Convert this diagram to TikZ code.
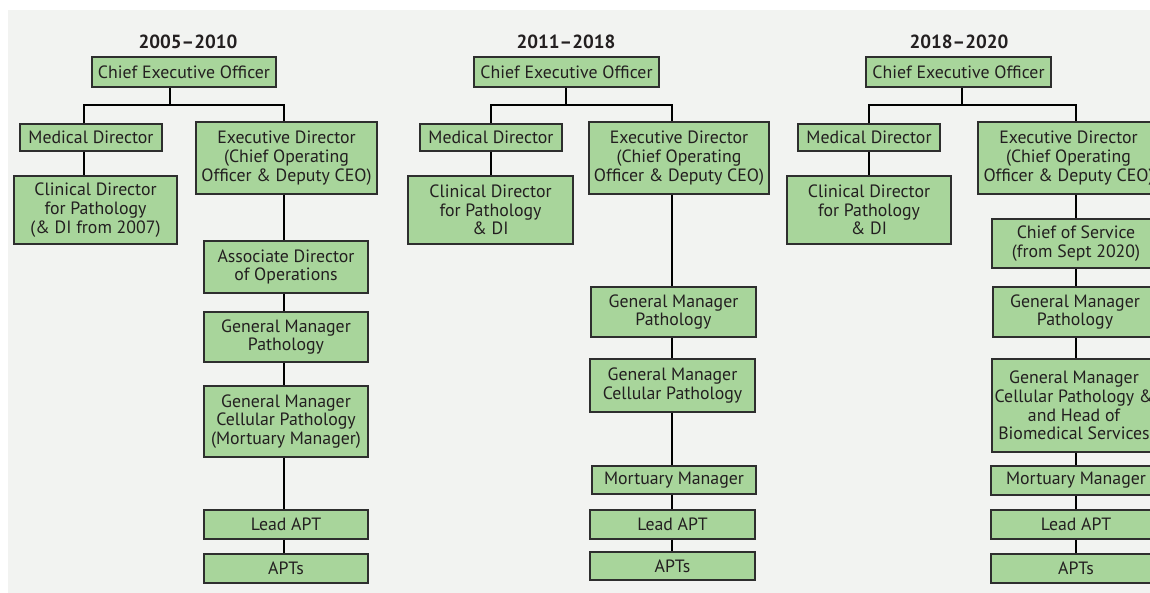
\documentclass[tikz,border=0pt]{standalone}
\usepackage{fontspec}
\setmainfont{PT Sans}
\definecolor{bggray}{HTML}{F2F3F1}
\definecolor{boxgreen}{HTML}{A8D59B}
\definecolor{boxline}{HTML}{2E2E2E}
\definecolor{txt}{HTML}{231F20}
\newcommand{\boxfnt}{\fontsize{17.8}{18.7}\selectfont}
\newcommand{\titlefnt}{\fontsize{19}{20}\selectfont\bfseries}
\begin{document}
\begin{tikzpicture}[x=1pt,y=-1pt,
  orgbox/.style={draw=boxline, fill=boxgreen, line width=1.1pt, inner sep=0pt,
    align=center, text=txt, font=\boxfnt},
  yeartitle/.style={text=txt, font=\titlefnt, inner sep=0pt},
  link/.style={draw=black, line width=1.2pt}]
\useasboundingbox (0,0) rectangle (1150,593);
\clip (0,0) rectangle (1150,593);
\fill[white] (0,0) rectangle (1150,593);
\fill[bggray] (8,10) rectangle (1150,593);

% ---------- Column 1: 2005-2010
\node[yeartitle] (t1) at (188,42) {2005–2010};
\node[orgbox, minimum width=184, minimum height=30] (ceo1) at (184,72) {Chief Executive Officer};
\node[orgbox, minimum width=142, minimum height=27] (md1) at (91,137.5) {Medical Director};
\node[orgbox, minimum width=163, minimum height=68] (cd1) at (95.5,210) {Clinical Director\\for Pathology\\(\& DI from 2007)};
\node[orgbox, minimum width=181, minimum height=72] (ed1) at (286.5,158) {Executive Director\\(Chief Operating\\Officer \& Deputy CEO)};
\node[orgbox, minimum width=164, minimum height=52] (ad1) at (286,267) {Associate Director\\of Operations};
\node[orgbox, minimum width=164, minimum height=50] (gmp1) at (286,337) {General Manager\\Pathology};
\node[orgbox, minimum width=164, minimum height=71] (gmc1) at (286,421.5) {General Manager\\Cellular Pathology\\(Mortuary Manager)};
\node[orgbox, minimum width=164, minimum height=29] (la1) at (286,524.5) {Lead APT};
\node[orgbox, minimum width=164, minimum height=29] (apt1) at (286,568.5) {APTs};
\coordinate (j1) at (170,105);
\coordinate (l1) at (84,105);
\coordinate (r1) at (284,105);
\draw[link] (ceo1.south -| j1) -- (j1);
\draw[link] (md1.north -| l1) -- (l1) -- (r1) -- (ed1.north -| r1);
\draw[link] (md1.south -| l1) -- (cd1.north -| l1);
\draw[link] (ed1.south -| r1) -- (ad1.north -| r1);
\draw[link] (ad1.south -| r1) -- (gmp1.north -| r1);
\draw[link] (gmp1.south -| r1) -- (gmc1.north -| r1);
\draw[link] (gmc1.south -| r1) -- (la1.north -| r1);
\draw[link] (la1.south -| r1) -- (apt1.north -| r1);

% ---------- Column 2: 2011-2018
\node[yeartitle] (t2) at (566,42) {2011–2018};
\node[orgbox, minimum width=185, minimum height=30] (ceo2) at (566.5,72) {Chief Executive Officer};
\node[orgbox, minimum width=142, minimum height=27] (md2) at (491,137.5) {Medical Director};
\node[orgbox, minimum width=165, minimum height=68] (cd2) at (490.5,210) {Clinical Director\\for Pathology\\\& DI};
\node[orgbox, minimum width=180, minimum height=72] (ed2) at (679,158) {Executive Director\\(Chief Operating\\Officer \& Deputy CEO)};
\node[orgbox, minimum width=165, minimum height=50] (gmp2) at (673.5,312) {General Manager\\Pathology};
\node[orgbox, minimum width=165, minimum height=53] (gmc2) at (672.5,385.5) {General Manager\\Cellular Pathology};
\node[orgbox, minimum width=164, minimum height=28] (mm2) at (674,480) {Mortuary Manager};
\node[orgbox, minimum width=165, minimum height=29] (la2) at (672.5,524.5) {Lead APT};
\node[orgbox, minimum width=165, minimum height=28] (apt2) at (672.5,566) {APTs};
\coordinate (j2) at (566,105);
\coordinate (l2) at (491,105);
\coordinate (r2) at (672,105);
\draw[link] (ceo2.south -| j2) -- (j2);
\draw[link] (md2.north -| l2) -- (l2) -- (r2) -- (ed2.north -| r2);
\draw[link] (md2.south -| l2) -- (cd2.north -| l2);
\draw[link] (ed2.south -| r2) -- (gmp2.north -| r2);
\draw[link] (gmp2.south -| r2) -- (gmc2.north -| r2);
\draw[link] (gmc2.south -| r2) -- (mm2.north -| r2);
\draw[link] (mm2.south -| r2) -- (la2.north -| r2);
\draw[link] (la2.south -| r2) -- (apt2.north -| r2);

% ---------- Column 3: 2018-2020
\node[yeartitle] (t3) at (959,42) {2018–2020};
\node[orgbox, minimum width=185, minimum height=30] (ceo3) at (958.5,72) {Chief Executive Officer};
\node[orgbox, minimum width=142, minimum height=27] (md3) at (869,137.5) {Medical Director};
\node[orgbox, minimum width=164, minimum height=68] (cd3) at (869,210) {Clinical Director\\for Pathology\\\& DI};
\node[orgbox, minimum width=181, minimum height=72] (ed3) at (1068.5,158) {Executive Director\\(Chief Operating\\Officer \& Deputy CEO)};
\node[orgbox, minimum width=168, minimum height=49] (cos3) at (1076,243.5) {Chief of Service\\(from Sept 2020)};
\node[orgbox, minimum width=164, minimum height=50] (gmp3) at (1075,312) {General Manager\\Pathology};
\node[orgbox, minimum width=164, minimum height=93] (gmc3) at (1074,405.5) {General Manager\\Cellular Pathology \&\\and Head of\\Biomedical Services};
\node[orgbox, minimum width=170, minimum height=29] (mm3) at (1076,480.5) {Mortuary Manager};
\node[orgbox, minimum width=170, minimum height=29] (la3) at (1076,524.5) {Lead APT};
\node[orgbox, minimum width=170, minimum height=29] (apt3) at (1076,568.5) {APTs};
\coordinate (j3) at (962,105);
\coordinate (l3) at (869,105);
\coordinate (r3) at (1076,105);
\draw[link] (ceo3.south -| j3) -- (j3);
\draw[link] (md3.north -| l3) -- (l3) -- (r3) -- (ed3.north -| r3);
\draw[link] (md3.south -| l3) -- (cd3.north -| l3);
\draw[link] (ed3.south -| r3) -- (cos3.north -| r3);
\draw[link] (cos3.south -| r3) -- (gmp3.north -| r3);
\draw[link] (gmp3.south -| r3) -- (gmc3.north -| r3);
\draw[link] (gmc3.south -| r3) -- (mm3.north -| r3);
\draw[link] (mm3.south -| r3) -- (la3.north -| r3);
\draw[link] (la3.south -| r3) -- (apt3.north -| r3);
\end{tikzpicture}
\end{document}
